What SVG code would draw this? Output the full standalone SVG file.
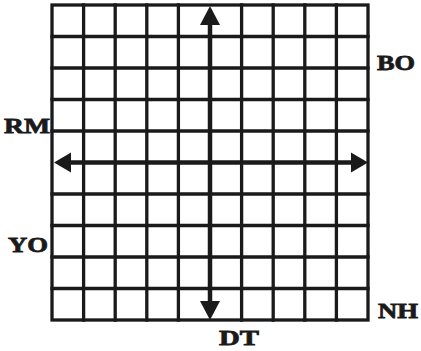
<svg xmlns="http://www.w3.org/2000/svg" width="421" height="351" viewBox="0 0 421 351">
<style>
.g{stroke:#1a1a1a;stroke-width:3.3;fill:none;stroke-linecap:square}
.ax{stroke:#1a1a1a;stroke-width:4.5;fill:none}
.hd{fill:#1a1a1a}
.lb{font-family:"Liberation Serif","DejaVu Serif",serif;font-weight:bold;font-size:22px;fill:#1a1a1a;stroke:#1a1a1a;stroke-width:0.8}
</style>
<rect width="421" height="351" fill="#ffffff"/>
<g id="grid" class="g">
<rect x="52" y="5" width="316" height="315"/>
<path d="M83.6 5V320M115.2 5V320M146.8 5V320M178.4 5V320M241.6 5V320M273.2 5V320M304.8 5V320M336.4 5V320"/>
<path d="M52 36.5H368M52 68H368M52 99.5H368M52 131H368M52 194H368M52 225.5H368M52 257H368M52 288.5H368"/>
</g>
<g id="connectors">
<path class="ax" d="M210 20V306"/>
<path class="ax" d="M68 162.5H354"/>
<polygon class="hd" points="210,6 200,25 220,25"/>
<polygon class="hd" points="210,320 200,301 220,301"/>
<polygon class="hd" points="54,162.5 71,152.5 71,172.5"/>
<polygon class="hd" points="368,162.5 351,152.5 351,172.5"/>
</g>
<g id="labels">
<text id="BO" class="lb" x="377" y="70" textLength="38" lengthAdjust="spacingAndGlyphs">BO</text>
<text id="RM" class="lb" x="4" y="133" textLength="46" lengthAdjust="spacingAndGlyphs">RM</text>
<text id="YO" class="lb" x="8" y="252" textLength="40" lengthAdjust="spacingAndGlyphs">YO</text>
<text id="NH" class="lb" x="378" y="318" textLength="40" lengthAdjust="spacingAndGlyphs">NH</text>
<text id="DT" class="lb" x="219" y="345" textLength="40" lengthAdjust="spacingAndGlyphs">DT</text>
</g>
</svg>
